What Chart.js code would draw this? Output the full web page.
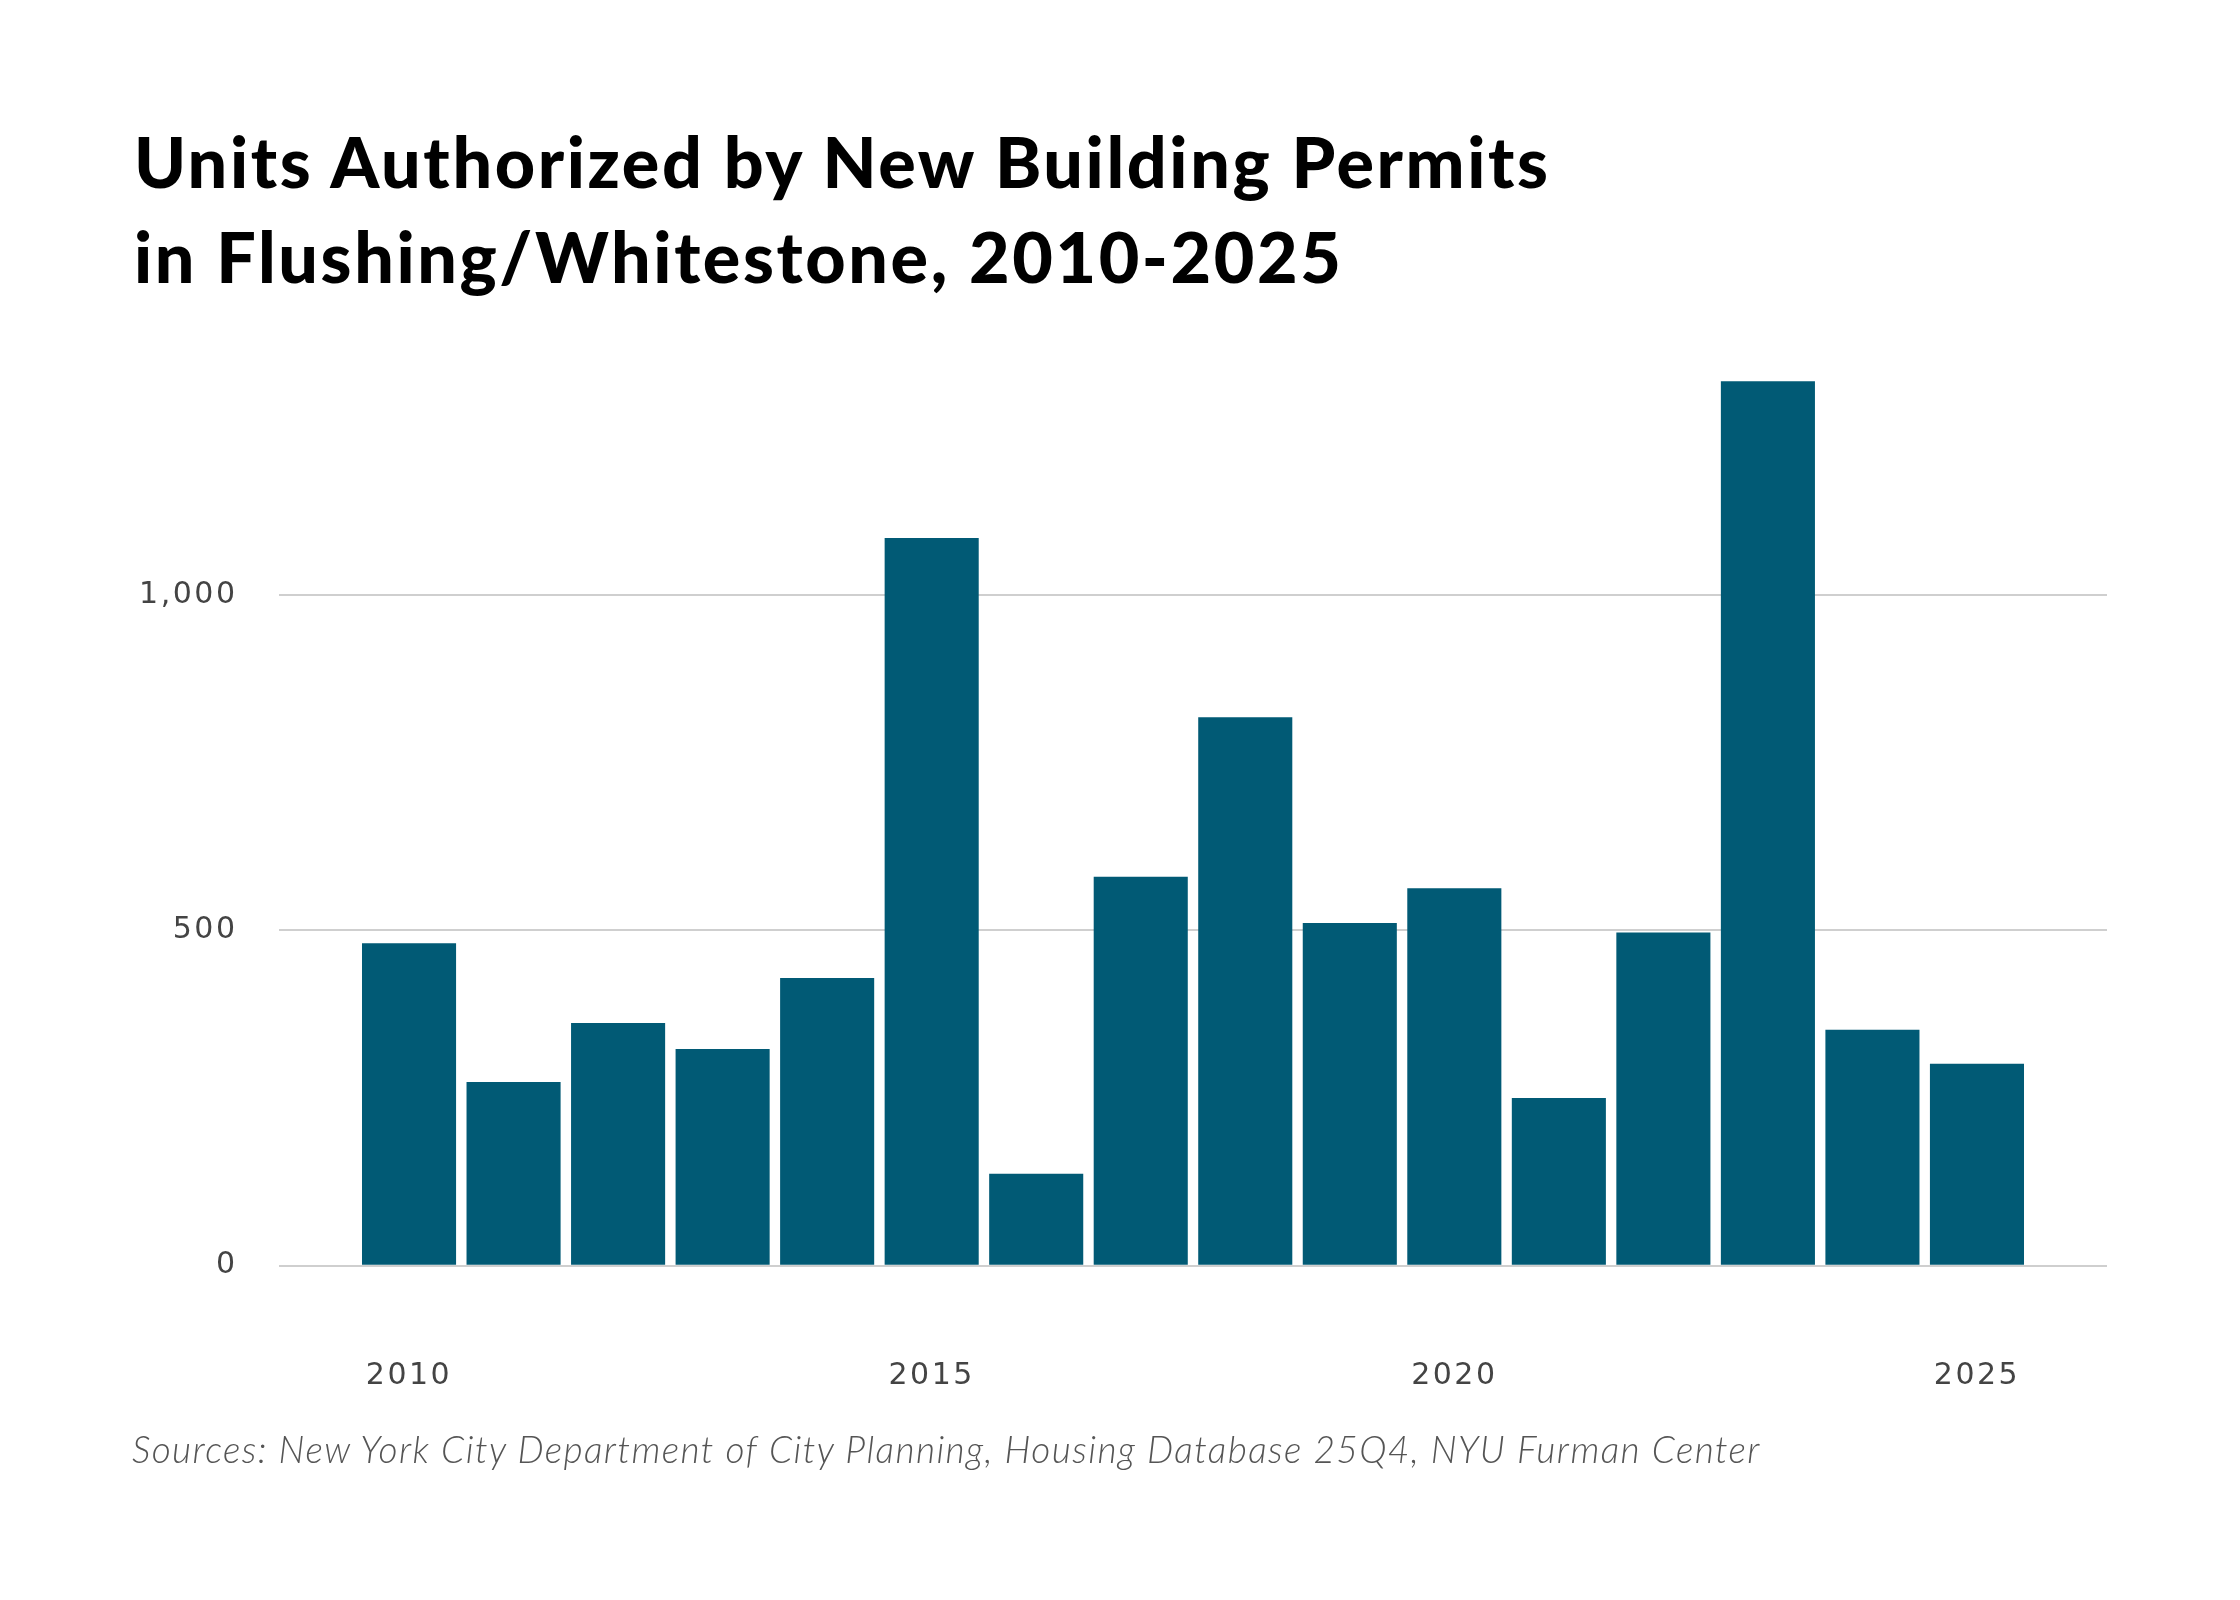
<!DOCTYPE html>
<html>
<head>
<meta charset="utf-8">
<script src="https://cdn.jsdelivr.net/npm/chart.js@4.4.1/dist/chart.umd.min.js"></script>
<style>
  html, body { margin: 0; padding: 0; background: #ffffff; }
  #wrap { position: relative; width: 2240px; height: 1600px; overflow: hidden; background: #ffffff; }
  #c { position: absolute; left: 0; top: 0; }
  #title { position: absolute; left: 134px; top: 114px; font-family: Lato, sans-serif; font-weight: 900;
           font-size: 70px; line-height: 95px; letter-spacing: 2.6px; color: #000000; white-space: nowrap; }
  #source { position: absolute; left: 132px; top: 1430px; font-family: Lato, sans-serif; font-weight: 300;
            font-style: italic; font-size: 37px; line-height: 37px; letter-spacing: 1.4px; color: #555555; white-space: nowrap; }
</style>
</head>
<body>
<div id="wrap">
  <canvas id="c" width="2240" height="1600"></canvas>
  <div id="title">Units Authorized by New Building Permits<br>in Flushing/Whitestone, 2010-2025</div>
  <div id="source">Sources: New York City Department of City Planning, Housing Database 25Q4, NYU Furman Center</div>
</div>
<script>
const years = [2010, 2011, 2012, 2013, 2014, 2015, 2016, 2017, 2018, 2019, 2020, 2021, 2022, 2023, 2024, 2025];
const units = [481, 274, 362, 323, 429, 1085, 137, 580, 818, 511, 563, 250, 497, 1319, 352, 301];
const xTickYears = [2010, 2015, 2020, 2025];
const yTickValues = [0, 500, 1000];

const points = years.map((yr, i) => ({ x: yr, y: units[i] }));

const spacingPlugin = {
  id: 'labelSpacing',
  beforeDraw: (chart) => { chart.ctx.letterSpacing = '2.5px'; }
};

new Chart(document.getElementById('c'), {
  type: 'bar',
  data: {
    datasets: [{
      data: points,
      backgroundColor: '#015a75',
      borderWidth: 0,
      barPercentage: 0.9,
      categoryPercentage: 1.0
    }]
  },
  plugins: [spacingPlugin],
  options: {
    responsive: false,
    animation: false,
    devicePixelRatio: 1,
    layout: { padding: { left: 100, right: 133, top: 300, bottom: 134.3 } },
    plugins: { legend: { display: false }, tooltip: { enabled: false }, title: { display: false } },
    scales: {
      x: {
        type: 'linear',
        offset: false,
        min: 2008.756,
        max: 2026.244,
        grid: { display: false, drawTicks: false },
        border: { display: false },
        afterBuildTicks: (axis) => { axis.ticks = xTickYears.map(v => ({ value: v })); },
        afterFit: (axis) => { axis.height = 200; },
        ticks: {
          padding: 93,
          color: '#444444',
          font: { family: 'DejaVu Sans', size: 30 },
          maxRotation: 0,
          autoSkip: false,
          callback: (v) => String(v)
        }
      },
      y: {
        min: 0,
        max: 1440,
        grid: { color: '#cfcfcf', lineWidth: 2, drawTicks: false },
        border: { display: false },
        afterBuildTicks: (axis) => { axis.ticks = yTickValues.map(v => ({ value: v })); },
        afterFit: (axis) => { axis.width = 179; },
        ticks: {
          padding: 41.5,
          color: '#444444',
          font: { family: 'DejaVu Sans', size: 30 },
          callback: (v) => v.toLocaleString('en-US')
        }
      }
    }
  }
});
</script>
</body>
</html>
